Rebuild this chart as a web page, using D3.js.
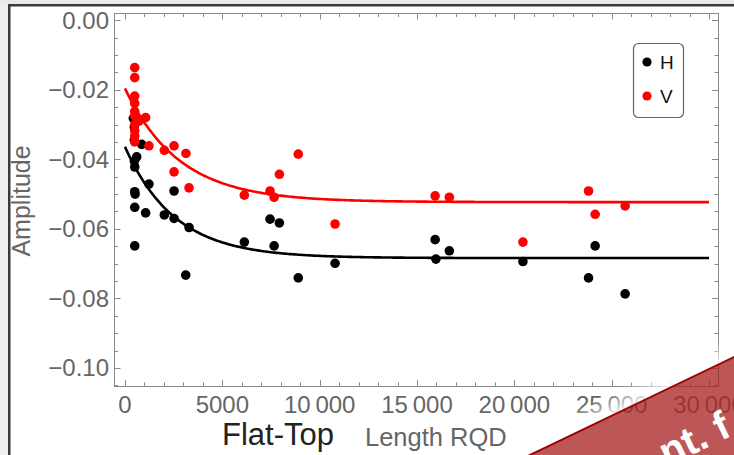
<!DOCTYPE html>
<html>
<head>
<meta charset="utf-8">
<script src="https://cdn.jsdelivr.net/npm/d3@7"></script>
<style>
  html, body { margin: 0; padding: 0; background: #fff; }
  svg { display: block; }
  text { font-family: "Liberation Sans", Arial, Helvetica, sans-serif; }
</style>
</head>
<body>
<svg id="chart" width="734" height="455"></svg>
<script>
// Flat-top length vs. amplitude, H and V measurements with exponential fits
const hLength = [430, 480, 480, 860, 600, 480, 500, 1230, 500, 520, 500, 1060, 2020, 2520, 2520, 3290,
                 500, 3120, 6130, 7450, 7930, 7660, 8900, 10790, 15930, 16660, 15970, 20440, 24150, 23810, 25690];
const hAmp    = [-0.0282, -0.0307, -0.0345, -0.0357, -0.0393, -0.0405, -0.0422, -0.0471, -0.0493, -0.0500,
                 -0.0538, -0.0554, -0.0560, -0.0570, -0.0491, -0.0596, -0.0649, -0.0733, -0.0638, -0.0572,
                 -0.0583, -0.0649, -0.0741, -0.0699, -0.0631, -0.0663, -0.0687, -0.0694, -0.0649, -0.0741, -0.0787];

const vLength = [500, 500, 500, 500, 500, 500, 500, 500, 500, 500, 720, 1060, 1230, 2020, 2520, 3130, 2520,
                 3290, 6130, 7450, 7660, 7930, 8900, 10790, 15930, 16660, 20440, 23810, 24150, 25690];
const vAmp    = [-0.0136, -0.0165, -0.0218, -0.0239, -0.0262, -0.0275, -0.0300, -0.0318, -0.0333, -0.0350,
                 -0.0290, -0.0280, -0.0361, -0.0374, -0.0361, -0.0383, -0.0436, -0.0482, -0.0503, -0.0491,
                 -0.0509, -0.0443, -0.0385, -0.0586, -0.0505, -0.0509, -0.0638, -0.0491, -0.0558, -0.0534];

// fit parameters: amp(x) = offset + scale * exp(-x / decay)
const fitNames  = ["H", "V"];
const fitOffset = [-0.0684, -0.0523];
const fitScale  = [0.0320, 0.0327];
const fitDecay  = [2550, 2787];

const seriesNames  = ["H", "V"];
const xTickValues  = [0, 5000, 10000, 15000, 20000, 25000, 30000];
const yTickValues  = [0, -0.02, -0.04, -0.06, -0.08, -0.10];

const colors = { H: "#000000", V: "#ff0000" };

const svg = d3.select("#chart");

// window frame around the figure
svg.append("rect").attr("x", 0).attr("y", 0).attr("width", 734).attr("height", 455).attr("fill", "#fff");
svg.append("rect").attr("x", 0).attr("y", 0).attr("width", 8).attr("height", 455).attr("fill", "#eeeeee");
svg.append("rect").attr("x", 0).attr("y", 0).attr("width", 734).attr("height", 4).attr("fill", "#e9e9e9");
svg.append("rect").attr("x", 8).attr("y", 4).attr("width", 2.5).attr("height", 451).attr("fill", "#3a3a3a");
svg.append("rect").attr("x", 8).attr("y", 4).attr("width", 726).attr("height", 2.5).attr("fill", "#3a3a3a");

const x = d3.scaleLinear().domain([-565, 30460]).range([114, 718]);
const y = d3.scaleLinear().domain([-0.1052, 0.0021]).range([386, 13]);

const frameColor = "#8a8a8a";
const labelColor = "#666666";

// plot frame
svg.append("rect")
  .attr("x", 114.5).attr("y", 13.5)
  .attr("width", 718 - 114).attr("height", 386 - 13)
  .attr("fill", "none").attr("stroke", frameColor).attr("stroke-width", 1);

const xMinor = d3.range(0, 30001, 1000);
const yMinor = d3.range(-0.105, 0.0001, 0.005);

function tickLines(g, vals, isMajor, pos, len, dir, orient) {
  g.selectAll(null).data(vals).enter().append("line")
    .attr("stroke", frameColor).attr("stroke-width", 1)
    .each(function (d) {
      const el = d3.select(this);
      const l = isMajor(d) ? len[0] : len[1];
      if (orient === "x") {
        const px = Math.round(x(d)) + 0.5;
        el.attr("x1", px).attr("x2", px).attr("y1", pos).attr("y2", pos + dir * l);
      } else {
        const py = Math.round(y(d)) + 0.5;
        el.attr("y1", py).attr("y2", py).attr("x1", pos).attr("x2", pos + dir * l);
      }
    });
}
const ticks = svg.append("g");
const xMajor = d => Math.abs(d % 5000) < 1;
const yMajor = d => Math.abs(Math.round(d / 0.005) % 4) === 0;
tickLines(ticks, xMinor, xMajor, 386, [6, 3.5], -1, "x");
tickLines(ticks, xMinor, xMajor, 13.5, [6, 3.5], 1, "x");
tickLines(ticks, yMinor, yMajor, 114.5, [6, 3.5], 1, "y");
tickLines(ticks, yMinor, yMajor, 718, [6, 3.5], -1, "y");

// tick labels
const fmtX = d => d >= 10000 ? d3.format(",")(d).replace(",", "\u2009") : String(d);
const fmtY = d => d === 0 ? "0.00" : "\u2212" + Math.abs(d).toFixed(2);

svg.append("g").selectAll("text").data(xTickValues).enter().append("text")
  .attr("x", d => x(d)).attr("y", 413)
  .attr("text-anchor", "middle").attr("font-size", 24).attr("fill", labelColor)
  .text(fmtX);

svg.append("g").selectAll("text").data(yTickValues).enter().append("text")
  .attr("x", 109).attr("y", d => y(d) + 8.5)
  .attr("text-anchor", "end").attr("font-size", 24).attr("fill", labelColor)
  .text(fmtY);

// axis titles
svg.append("text")
  .attr("transform", "translate(30,201) rotate(-90)")
  .attr("text-anchor", "middle").attr("font-size", 25).attr("fill", labelColor)
  .text("Amplitude");
svg.append("text")
  .attr("x", 222).attr("y", 445)
  .attr("font-size", 31).attr("fill", "#222")
  .text("Flat-Top");
svg.append("text")
  .attr("x", 365).attr("y", 446)
  .attr("font-size", 25.5).attr("fill", labelColor)
  .text("Length RQD");

// clip to plot area
svg.append("clipPath").attr("id", "plotClip")
  .append("rect").attr("x", 114).attr("y", 13).attr("width", 604).attr("height", 373);
const plot = svg.append("g").attr("clip-path", "url(#plotClip)");

// fitted curves
const line = d3.line().x(d => x(d[0])).y(d => y(d[1])).curve(d3.curveLinear);
const xs = d3.range(0, 30001, 100);
fitNames.forEach((name, i) => {
  const pts = xs.map(v => [v, fitOffset[i] + fitScale[i] * Math.exp(-v / fitDecay[i])]);
  plot.append("path").datum(pts)
    .attr("d", line).attr("fill", "none")
    .attr("stroke", colors[name]).attr("stroke-width", 2.6);
});

// data points
const series = { H: d3.zip(hLength, hAmp), V: d3.zip(vLength, vAmp) };
seriesNames.forEach(name => {
  plot.append("g").selectAll("circle").data(series[name]).enter().append("circle")
    .attr("cx", d => x(d[0])).attr("cy", d => y(d[1])).attr("r", 4.8)
    .attr("fill", colors[name]);
});

// legend
const lg = svg.append("g");
lg.append("rect").attr("x", 633.5).attr("y", 43.5).attr("width", 50).attr("height", 74)
  .attr("rx", 5).attr("fill", "#fff").attr("stroke", "#666").attr("stroke-width", 1.2);
seriesNames.forEach((name, i) => {
  lg.append("circle").attr("cx", 647).attr("cy", 62 + i * 34).attr("r", 4.6).attr("fill", colors[name]);
  lg.append("text").attr("x", 660).attr("y", 69 + i * 34)
    .attr("font-size", 19).attr("fill", "#111").text(name);
});

// ribbon across the lower right corner
const defs = svg.append("defs");
const grad = defs.append("linearGradient").attr("id", "ribbonGlow")
  .attr("x1", 0).attr("y1", 1).attr("x2", 0).attr("y2", 0);
grad.append("stop").attr("offset", "0%").attr("stop-color", "#fff").attr("stop-opacity", 0.9);
grad.append("stop").attr("offset", "100%").attr("stop-color", "#fff").attr("stop-opacity", 0);

const ribbon = svg.append("g").attr("transform", "translate(734,357) rotate(-25.66)");
ribbon.append("rect").attr("x", -400).attr("y", -22).attr("width", 500).attr("height", 22)
  .attr("fill", "url(#ribbonGlow)");
ribbon.append("rect").attr("x", -400).attr("y", 0).attr("width", 500).attr("height", 200)
  .attr("fill", "rgb(170,40,40)").attr("fill-opacity", 0.78);
ribbon.append("line").attr("x1", -400).attr("x2", 100).attr("y1", 0).attr("y2", 0)
  .attr("stroke", "#a00000").attr("stroke-width", 2);
ribbon.append("text").attr("x", -108).attr("y", 70)
  .attr("font-size", 40).attr("font-weight", "bold").attr("fill", "#fff")
  .text("nt. f");
</script>
</body>
</html>
